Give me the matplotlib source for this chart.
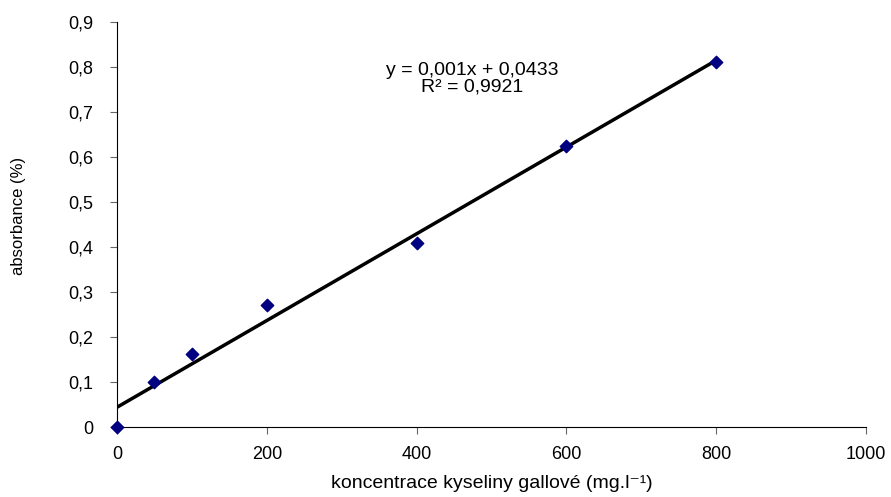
import numpy as np
import matplotlib.pyplot as plt
from matplotlib.ticker import FuncFormatter

plt.rcParams['font.family'] = ['Liberation Sans', 'DejaVu Sans']

# calibration data
konc = [0, 50, 100, 200, 400, 600, 800]
absorb = [0.0, 0.1, 0.162, 0.272, 0.41, 0.624, 0.811]

fig = plt.figure(figsize=(8.91, 4.97), dpi=100)
ax = fig.add_axes([117 / 891, 1 - 427 / 497, (866 - 117) / 891, (427 - 22) / 497])

# linear trend line
k, q = np.polyfit(konc, absorb, 1)
xl = np.array([0, 800])
ax.plot(xl, k * xl + q, color='black', lw=2.5, zorder=2)
ax.scatter(konc, absorb, marker='D', s=40, color='#000080', zorder=3, clip_on=False)

ax.set_xlim(0, 1000)
ax.set_ylim(0, 0.9)
ax.set_xticks(np.arange(0, 1001, 200))
ax.set_yticks(np.arange(0, 0.91, 0.1))
ax.yaxis.set_major_formatter(FuncFormatter(lambda v, p: '0' if abs(v) < 1e-9 else f'{v:.1f}'.replace('.', ',')))

for s in ['top', 'right']:
    ax.spines[s].set_visible(False)
ax.tick_params(direction='out', length=5, color='#666666', labelsize=13)
ax.tick_params(axis='y', pad=12)
ax.tick_params(axis='x', pad=9)

ax.set_xlabel('koncentrace kyseliny gallové (mg.l⁻¹)', fontsize=14)
ax.xaxis.set_label_coords(0.5, -57 / 405, transform=ax.transAxes)
ax.xaxis.label.set_va('center')
ax.set_ylabel('absorbance (%)', fontsize=12)
ax.yaxis.set_label_coords(-99 / 749, (427 - 216) / 405, transform=ax.transAxes)
ax.yaxis.label.set_va('center')

ax.text(474, 0.773, 'y = 0,001x + 0,0433\nR² = 0,9921', ha='center', va='center',
        fontsize=14, linespacing=0.95)

fig.savefig('out.png', dpi=100)
